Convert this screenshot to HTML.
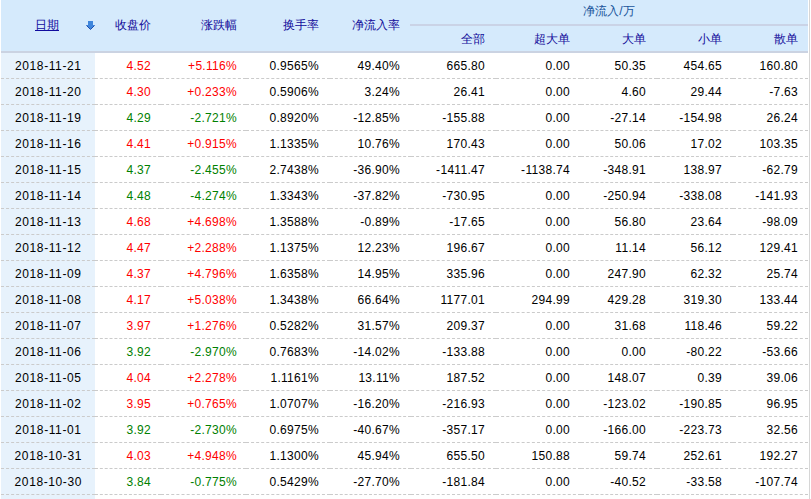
<!DOCTYPE html><html><head><meta charset="utf-8"><title>资金流向</title><style>
*{margin:0;padding:0;box-sizing:border-box}
html,body{width:811px;height:499px;overflow:hidden;background:#fff}
body{position:relative;font-family:"Liberation Sans",sans-serif;font-size:12px;color:#000}
.a{position:absolute}
.hd{left:1px;top:0;width:807px;height:51px;background:#d5eafc}
.hb{left:1px;top:51px;width:807px;height:2px;background:#cbd3e2}
.sep{left:410px;top:24px;width:398px;height:2px;background:#cad3e6}
.dc{left:1px;top:53px;width:94px;height:446px;background:#e7f2fc}
.vl{left:809px;top:0;width:1px;height:499px;background:#d6d6d6}
.dl{height:1px;border-bottom:1px dashed #cbcbcb}
.h{color:#120b9a;line-height:25px;white-space:nowrap}
.t{line-height:25px;letter-spacing:0.3px;white-space:nowrap;text-align:right}
.d{left:1px;width:94px;text-align:center;letter-spacing:0.6px;text-indent:0.6px}
.r{color:#f00}.g{color:#008000}
.nf{color:#18539a}
.lk{color:#110c9e;text-decoration:underline}
</style></head><body>
<div class="a hd"></div><div class="a hb"></div><div class="a sep"></div><div class="a dc"></div><div class="a vl"></div>
<div class="a h lk" style="left:35px;top:13px">日期</div>
<svg class="a" style="left:85px;top:20px" width="11" height="11" viewBox="85 20 11 11"><polygon points="88,21 93,21 93,25 95,25 90.5,29.5 86,25 88,25" fill="#3f86dc"/><polyline points="86.5,25.5 90.5,29.5 94.5,25.5" fill="none" stroke="#1d4fb0" stroke-width="1"/></svg>
<div class="a h" style="right:660px;top:13px">收盘价</div>
<div class="a h" style="right:574px;top:13px">涨跌幅</div>
<div class="a h" style="right:492px;top:13px">换手率</div>
<div class="a h" style="right:411px;top:13px">净流入率</div>
<div class="a h nf" style="left:410px;width:398px;top:-1px;text-align:center">净流入/万</div>
<div class="a h" style="right:326px;top:27px">全部</div>
<div class="a h" style="right:241px;top:27px">超大单</div>
<div class="a h" style="right:165px;top:27px">大单</div>
<div class="a h" style="right:89px;top:27px">小单</div>
<div class="a h" style="right:13px;top:27px">散单</div>
<div class="a dl" style="left:1px;width:94px;top:78px"></div>
<div class="a dl" style="left:95px;width:66px;top:78px"></div>
<div class="a dl" style="left:161px;width:85px;top:78px"></div>
<div class="a dl" style="left:246px;width:84px;top:78px"></div>
<div class="a dl" style="left:330px;width:81px;top:78px"></div>
<div class="a dl" style="left:411px;width:85px;top:78px"></div>
<div class="a dl" style="left:496px;width:85px;top:78px"></div>
<div class="a dl" style="left:581px;width:76px;top:78px"></div>
<div class="a dl" style="left:657px;width:76px;top:78px"></div>
<div class="a dl" style="left:733px;width:75px;top:78px"></div>
<div class="a t d" style="top:54px">2018-11-21</div>
<div class="a t r" style="right:660px;top:54px">4.52</div>
<div class="a t r" style="right:574px;top:54px">+5.116%</div>
<div class="a t " style="right:492px;top:54px">0.9565%</div>
<div class="a t " style="right:411px;top:54px">49.40%</div>
<div class="a t " style="right:326px;top:54px">665.80</div>
<div class="a t " style="right:241px;top:54px">0.00</div>
<div class="a t " style="right:165px;top:54px">50.35</div>
<div class="a t " style="right:89px;top:54px">454.65</div>
<div class="a t " style="right:13px;top:54px">160.80</div>
<div class="a dl" style="left:1px;width:94px;top:104px"></div>
<div class="a dl" style="left:95px;width:66px;top:104px"></div>
<div class="a dl" style="left:161px;width:85px;top:104px"></div>
<div class="a dl" style="left:246px;width:84px;top:104px"></div>
<div class="a dl" style="left:330px;width:81px;top:104px"></div>
<div class="a dl" style="left:411px;width:85px;top:104px"></div>
<div class="a dl" style="left:496px;width:85px;top:104px"></div>
<div class="a dl" style="left:581px;width:76px;top:104px"></div>
<div class="a dl" style="left:657px;width:76px;top:104px"></div>
<div class="a dl" style="left:733px;width:75px;top:104px"></div>
<div class="a t d" style="top:80px">2018-11-20</div>
<div class="a t r" style="right:660px;top:80px">4.30</div>
<div class="a t r" style="right:574px;top:80px">+0.233%</div>
<div class="a t " style="right:492px;top:80px">0.5906%</div>
<div class="a t " style="right:411px;top:80px">3.24%</div>
<div class="a t " style="right:326px;top:80px">26.41</div>
<div class="a t " style="right:241px;top:80px">0.00</div>
<div class="a t " style="right:165px;top:80px">4.60</div>
<div class="a t " style="right:89px;top:80px">29.44</div>
<div class="a t " style="right:13px;top:80px">-7.63</div>
<div class="a dl" style="left:1px;width:94px;top:130px"></div>
<div class="a dl" style="left:95px;width:66px;top:130px"></div>
<div class="a dl" style="left:161px;width:85px;top:130px"></div>
<div class="a dl" style="left:246px;width:84px;top:130px"></div>
<div class="a dl" style="left:330px;width:81px;top:130px"></div>
<div class="a dl" style="left:411px;width:85px;top:130px"></div>
<div class="a dl" style="left:496px;width:85px;top:130px"></div>
<div class="a dl" style="left:581px;width:76px;top:130px"></div>
<div class="a dl" style="left:657px;width:76px;top:130px"></div>
<div class="a dl" style="left:733px;width:75px;top:130px"></div>
<div class="a t d" style="top:106px">2018-11-19</div>
<div class="a t g" style="right:660px;top:106px">4.29</div>
<div class="a t g" style="right:574px;top:106px">-2.721%</div>
<div class="a t " style="right:492px;top:106px">0.8920%</div>
<div class="a t " style="right:411px;top:106px">-12.85%</div>
<div class="a t " style="right:326px;top:106px">-155.88</div>
<div class="a t " style="right:241px;top:106px">0.00</div>
<div class="a t " style="right:165px;top:106px">-27.14</div>
<div class="a t " style="right:89px;top:106px">-154.98</div>
<div class="a t " style="right:13px;top:106px">26.24</div>
<div class="a dl" style="left:1px;width:94px;top:156px"></div>
<div class="a dl" style="left:95px;width:66px;top:156px"></div>
<div class="a dl" style="left:161px;width:85px;top:156px"></div>
<div class="a dl" style="left:246px;width:84px;top:156px"></div>
<div class="a dl" style="left:330px;width:81px;top:156px"></div>
<div class="a dl" style="left:411px;width:85px;top:156px"></div>
<div class="a dl" style="left:496px;width:85px;top:156px"></div>
<div class="a dl" style="left:581px;width:76px;top:156px"></div>
<div class="a dl" style="left:657px;width:76px;top:156px"></div>
<div class="a dl" style="left:733px;width:75px;top:156px"></div>
<div class="a t d" style="top:132px">2018-11-16</div>
<div class="a t r" style="right:660px;top:132px">4.41</div>
<div class="a t r" style="right:574px;top:132px">+0.915%</div>
<div class="a t " style="right:492px;top:132px">1.1335%</div>
<div class="a t " style="right:411px;top:132px">10.76%</div>
<div class="a t " style="right:326px;top:132px">170.43</div>
<div class="a t " style="right:241px;top:132px">0.00</div>
<div class="a t " style="right:165px;top:132px">50.06</div>
<div class="a t " style="right:89px;top:132px">17.02</div>
<div class="a t " style="right:13px;top:132px">103.35</div>
<div class="a dl" style="left:1px;width:94px;top:182px"></div>
<div class="a dl" style="left:95px;width:66px;top:182px"></div>
<div class="a dl" style="left:161px;width:85px;top:182px"></div>
<div class="a dl" style="left:246px;width:84px;top:182px"></div>
<div class="a dl" style="left:330px;width:81px;top:182px"></div>
<div class="a dl" style="left:411px;width:85px;top:182px"></div>
<div class="a dl" style="left:496px;width:85px;top:182px"></div>
<div class="a dl" style="left:581px;width:76px;top:182px"></div>
<div class="a dl" style="left:657px;width:76px;top:182px"></div>
<div class="a dl" style="left:733px;width:75px;top:182px"></div>
<div class="a t d" style="top:158px">2018-11-15</div>
<div class="a t g" style="right:660px;top:158px">4.37</div>
<div class="a t g" style="right:574px;top:158px">-2.455%</div>
<div class="a t " style="right:492px;top:158px">2.7438%</div>
<div class="a t " style="right:411px;top:158px">-36.90%</div>
<div class="a t " style="right:326px;top:158px">-1411.47</div>
<div class="a t " style="right:241px;top:158px">-1138.74</div>
<div class="a t " style="right:165px;top:158px">-348.91</div>
<div class="a t " style="right:89px;top:158px">138.97</div>
<div class="a t " style="right:13px;top:158px">-62.79</div>
<div class="a dl" style="left:1px;width:94px;top:208px"></div>
<div class="a dl" style="left:95px;width:66px;top:208px"></div>
<div class="a dl" style="left:161px;width:85px;top:208px"></div>
<div class="a dl" style="left:246px;width:84px;top:208px"></div>
<div class="a dl" style="left:330px;width:81px;top:208px"></div>
<div class="a dl" style="left:411px;width:85px;top:208px"></div>
<div class="a dl" style="left:496px;width:85px;top:208px"></div>
<div class="a dl" style="left:581px;width:76px;top:208px"></div>
<div class="a dl" style="left:657px;width:76px;top:208px"></div>
<div class="a dl" style="left:733px;width:75px;top:208px"></div>
<div class="a t d" style="top:184px">2018-11-14</div>
<div class="a t g" style="right:660px;top:184px">4.48</div>
<div class="a t g" style="right:574px;top:184px">-4.274%</div>
<div class="a t " style="right:492px;top:184px">1.3343%</div>
<div class="a t " style="right:411px;top:184px">-37.82%</div>
<div class="a t " style="right:326px;top:184px">-730.95</div>
<div class="a t " style="right:241px;top:184px">0.00</div>
<div class="a t " style="right:165px;top:184px">-250.94</div>
<div class="a t " style="right:89px;top:184px">-338.08</div>
<div class="a t " style="right:13px;top:184px">-141.93</div>
<div class="a dl" style="left:1px;width:94px;top:234px"></div>
<div class="a dl" style="left:95px;width:66px;top:234px"></div>
<div class="a dl" style="left:161px;width:85px;top:234px"></div>
<div class="a dl" style="left:246px;width:84px;top:234px"></div>
<div class="a dl" style="left:330px;width:81px;top:234px"></div>
<div class="a dl" style="left:411px;width:85px;top:234px"></div>
<div class="a dl" style="left:496px;width:85px;top:234px"></div>
<div class="a dl" style="left:581px;width:76px;top:234px"></div>
<div class="a dl" style="left:657px;width:76px;top:234px"></div>
<div class="a dl" style="left:733px;width:75px;top:234px"></div>
<div class="a t d" style="top:210px">2018-11-13</div>
<div class="a t r" style="right:660px;top:210px">4.68</div>
<div class="a t r" style="right:574px;top:210px">+4.698%</div>
<div class="a t " style="right:492px;top:210px">1.3588%</div>
<div class="a t " style="right:411px;top:210px">-0.89%</div>
<div class="a t " style="right:326px;top:210px">-17.65</div>
<div class="a t " style="right:241px;top:210px">0.00</div>
<div class="a t " style="right:165px;top:210px">56.80</div>
<div class="a t " style="right:89px;top:210px">23.64</div>
<div class="a t " style="right:13px;top:210px">-98.09</div>
<div class="a dl" style="left:1px;width:94px;top:260px"></div>
<div class="a dl" style="left:95px;width:66px;top:260px"></div>
<div class="a dl" style="left:161px;width:85px;top:260px"></div>
<div class="a dl" style="left:246px;width:84px;top:260px"></div>
<div class="a dl" style="left:330px;width:81px;top:260px"></div>
<div class="a dl" style="left:411px;width:85px;top:260px"></div>
<div class="a dl" style="left:496px;width:85px;top:260px"></div>
<div class="a dl" style="left:581px;width:76px;top:260px"></div>
<div class="a dl" style="left:657px;width:76px;top:260px"></div>
<div class="a dl" style="left:733px;width:75px;top:260px"></div>
<div class="a t d" style="top:236px">2018-11-12</div>
<div class="a t r" style="right:660px;top:236px">4.47</div>
<div class="a t r" style="right:574px;top:236px">+2.288%</div>
<div class="a t " style="right:492px;top:236px">1.1375%</div>
<div class="a t " style="right:411px;top:236px">12.23%</div>
<div class="a t " style="right:326px;top:236px">196.67</div>
<div class="a t " style="right:241px;top:236px">0.00</div>
<div class="a t " style="right:165px;top:236px">11.14</div>
<div class="a t " style="right:89px;top:236px">56.12</div>
<div class="a t " style="right:13px;top:236px">129.41</div>
<div class="a dl" style="left:1px;width:94px;top:286px"></div>
<div class="a dl" style="left:95px;width:66px;top:286px"></div>
<div class="a dl" style="left:161px;width:85px;top:286px"></div>
<div class="a dl" style="left:246px;width:84px;top:286px"></div>
<div class="a dl" style="left:330px;width:81px;top:286px"></div>
<div class="a dl" style="left:411px;width:85px;top:286px"></div>
<div class="a dl" style="left:496px;width:85px;top:286px"></div>
<div class="a dl" style="left:581px;width:76px;top:286px"></div>
<div class="a dl" style="left:657px;width:76px;top:286px"></div>
<div class="a dl" style="left:733px;width:75px;top:286px"></div>
<div class="a t d" style="top:262px">2018-11-09</div>
<div class="a t r" style="right:660px;top:262px">4.37</div>
<div class="a t r" style="right:574px;top:262px">+4.796%</div>
<div class="a t " style="right:492px;top:262px">1.6358%</div>
<div class="a t " style="right:411px;top:262px">14.95%</div>
<div class="a t " style="right:326px;top:262px">335.96</div>
<div class="a t " style="right:241px;top:262px">0.00</div>
<div class="a t " style="right:165px;top:262px">247.90</div>
<div class="a t " style="right:89px;top:262px">62.32</div>
<div class="a t " style="right:13px;top:262px">25.74</div>
<div class="a dl" style="left:1px;width:94px;top:312px"></div>
<div class="a dl" style="left:95px;width:66px;top:312px"></div>
<div class="a dl" style="left:161px;width:85px;top:312px"></div>
<div class="a dl" style="left:246px;width:84px;top:312px"></div>
<div class="a dl" style="left:330px;width:81px;top:312px"></div>
<div class="a dl" style="left:411px;width:85px;top:312px"></div>
<div class="a dl" style="left:496px;width:85px;top:312px"></div>
<div class="a dl" style="left:581px;width:76px;top:312px"></div>
<div class="a dl" style="left:657px;width:76px;top:312px"></div>
<div class="a dl" style="left:733px;width:75px;top:312px"></div>
<div class="a t d" style="top:288px">2018-11-08</div>
<div class="a t r" style="right:660px;top:288px">4.17</div>
<div class="a t r" style="right:574px;top:288px">+5.038%</div>
<div class="a t " style="right:492px;top:288px">1.3438%</div>
<div class="a t " style="right:411px;top:288px">66.64%</div>
<div class="a t " style="right:326px;top:288px">1177.01</div>
<div class="a t " style="right:241px;top:288px">294.99</div>
<div class="a t " style="right:165px;top:288px">429.28</div>
<div class="a t " style="right:89px;top:288px">319.30</div>
<div class="a t " style="right:13px;top:288px">133.44</div>
<div class="a dl" style="left:1px;width:94px;top:338px"></div>
<div class="a dl" style="left:95px;width:66px;top:338px"></div>
<div class="a dl" style="left:161px;width:85px;top:338px"></div>
<div class="a dl" style="left:246px;width:84px;top:338px"></div>
<div class="a dl" style="left:330px;width:81px;top:338px"></div>
<div class="a dl" style="left:411px;width:85px;top:338px"></div>
<div class="a dl" style="left:496px;width:85px;top:338px"></div>
<div class="a dl" style="left:581px;width:76px;top:338px"></div>
<div class="a dl" style="left:657px;width:76px;top:338px"></div>
<div class="a dl" style="left:733px;width:75px;top:338px"></div>
<div class="a t d" style="top:314px">2018-11-07</div>
<div class="a t r" style="right:660px;top:314px">3.97</div>
<div class="a t r" style="right:574px;top:314px">+1.276%</div>
<div class="a t " style="right:492px;top:314px">0.5282%</div>
<div class="a t " style="right:411px;top:314px">31.57%</div>
<div class="a t " style="right:326px;top:314px">209.37</div>
<div class="a t " style="right:241px;top:314px">0.00</div>
<div class="a t " style="right:165px;top:314px">31.68</div>
<div class="a t " style="right:89px;top:314px">118.46</div>
<div class="a t " style="right:13px;top:314px">59.22</div>
<div class="a dl" style="left:1px;width:94px;top:364px"></div>
<div class="a dl" style="left:95px;width:66px;top:364px"></div>
<div class="a dl" style="left:161px;width:85px;top:364px"></div>
<div class="a dl" style="left:246px;width:84px;top:364px"></div>
<div class="a dl" style="left:330px;width:81px;top:364px"></div>
<div class="a dl" style="left:411px;width:85px;top:364px"></div>
<div class="a dl" style="left:496px;width:85px;top:364px"></div>
<div class="a dl" style="left:581px;width:76px;top:364px"></div>
<div class="a dl" style="left:657px;width:76px;top:364px"></div>
<div class="a dl" style="left:733px;width:75px;top:364px"></div>
<div class="a t d" style="top:340px">2018-11-06</div>
<div class="a t g" style="right:660px;top:340px">3.92</div>
<div class="a t g" style="right:574px;top:340px">-2.970%</div>
<div class="a t " style="right:492px;top:340px">0.7683%</div>
<div class="a t " style="right:411px;top:340px">-14.02%</div>
<div class="a t " style="right:326px;top:340px">-133.88</div>
<div class="a t " style="right:241px;top:340px">0.00</div>
<div class="a t " style="right:165px;top:340px">0.00</div>
<div class="a t " style="right:89px;top:340px">-80.22</div>
<div class="a t " style="right:13px;top:340px">-53.66</div>
<div class="a dl" style="left:1px;width:94px;top:390px"></div>
<div class="a dl" style="left:95px;width:66px;top:390px"></div>
<div class="a dl" style="left:161px;width:85px;top:390px"></div>
<div class="a dl" style="left:246px;width:84px;top:390px"></div>
<div class="a dl" style="left:330px;width:81px;top:390px"></div>
<div class="a dl" style="left:411px;width:85px;top:390px"></div>
<div class="a dl" style="left:496px;width:85px;top:390px"></div>
<div class="a dl" style="left:581px;width:76px;top:390px"></div>
<div class="a dl" style="left:657px;width:76px;top:390px"></div>
<div class="a dl" style="left:733px;width:75px;top:390px"></div>
<div class="a t d" style="top:366px">2018-11-05</div>
<div class="a t r" style="right:660px;top:366px">4.04</div>
<div class="a t r" style="right:574px;top:366px">+2.278%</div>
<div class="a t " style="right:492px;top:366px">1.1161%</div>
<div class="a t " style="right:411px;top:366px">13.11%</div>
<div class="a t " style="right:326px;top:366px">187.52</div>
<div class="a t " style="right:241px;top:366px">0.00</div>
<div class="a t " style="right:165px;top:366px">148.07</div>
<div class="a t " style="right:89px;top:366px">0.39</div>
<div class="a t " style="right:13px;top:366px">39.06</div>
<div class="a dl" style="left:1px;width:94px;top:416px"></div>
<div class="a dl" style="left:95px;width:66px;top:416px"></div>
<div class="a dl" style="left:161px;width:85px;top:416px"></div>
<div class="a dl" style="left:246px;width:84px;top:416px"></div>
<div class="a dl" style="left:330px;width:81px;top:416px"></div>
<div class="a dl" style="left:411px;width:85px;top:416px"></div>
<div class="a dl" style="left:496px;width:85px;top:416px"></div>
<div class="a dl" style="left:581px;width:76px;top:416px"></div>
<div class="a dl" style="left:657px;width:76px;top:416px"></div>
<div class="a dl" style="left:733px;width:75px;top:416px"></div>
<div class="a t d" style="top:392px">2018-11-02</div>
<div class="a t r" style="right:660px;top:392px">3.95</div>
<div class="a t r" style="right:574px;top:392px">+0.765%</div>
<div class="a t " style="right:492px;top:392px">1.0707%</div>
<div class="a t " style="right:411px;top:392px">-16.20%</div>
<div class="a t " style="right:326px;top:392px">-216.93</div>
<div class="a t " style="right:241px;top:392px">0.00</div>
<div class="a t " style="right:165px;top:392px">-123.02</div>
<div class="a t " style="right:89px;top:392px">-190.85</div>
<div class="a t " style="right:13px;top:392px">96.95</div>
<div class="a dl" style="left:1px;width:94px;top:442px"></div>
<div class="a dl" style="left:95px;width:66px;top:442px"></div>
<div class="a dl" style="left:161px;width:85px;top:442px"></div>
<div class="a dl" style="left:246px;width:84px;top:442px"></div>
<div class="a dl" style="left:330px;width:81px;top:442px"></div>
<div class="a dl" style="left:411px;width:85px;top:442px"></div>
<div class="a dl" style="left:496px;width:85px;top:442px"></div>
<div class="a dl" style="left:581px;width:76px;top:442px"></div>
<div class="a dl" style="left:657px;width:76px;top:442px"></div>
<div class="a dl" style="left:733px;width:75px;top:442px"></div>
<div class="a t d" style="top:418px">2018-11-01</div>
<div class="a t g" style="right:660px;top:418px">3.92</div>
<div class="a t g" style="right:574px;top:418px">-2.730%</div>
<div class="a t " style="right:492px;top:418px">0.6975%</div>
<div class="a t " style="right:411px;top:418px">-40.67%</div>
<div class="a t " style="right:326px;top:418px">-357.17</div>
<div class="a t " style="right:241px;top:418px">0.00</div>
<div class="a t " style="right:165px;top:418px">-166.00</div>
<div class="a t " style="right:89px;top:418px">-223.73</div>
<div class="a t " style="right:13px;top:418px">32.56</div>
<div class="a dl" style="left:1px;width:94px;top:468px"></div>
<div class="a dl" style="left:95px;width:66px;top:468px"></div>
<div class="a dl" style="left:161px;width:85px;top:468px"></div>
<div class="a dl" style="left:246px;width:84px;top:468px"></div>
<div class="a dl" style="left:330px;width:81px;top:468px"></div>
<div class="a dl" style="left:411px;width:85px;top:468px"></div>
<div class="a dl" style="left:496px;width:85px;top:468px"></div>
<div class="a dl" style="left:581px;width:76px;top:468px"></div>
<div class="a dl" style="left:657px;width:76px;top:468px"></div>
<div class="a dl" style="left:733px;width:75px;top:468px"></div>
<div class="a t d" style="top:444px">2018-10-31</div>
<div class="a t r" style="right:660px;top:444px">4.03</div>
<div class="a t r" style="right:574px;top:444px">+4.948%</div>
<div class="a t " style="right:492px;top:444px">1.1300%</div>
<div class="a t " style="right:411px;top:444px">45.94%</div>
<div class="a t " style="right:326px;top:444px">655.50</div>
<div class="a t " style="right:241px;top:444px">150.88</div>
<div class="a t " style="right:165px;top:444px">59.74</div>
<div class="a t " style="right:89px;top:444px">252.61</div>
<div class="a t " style="right:13px;top:444px">192.27</div>
<div class="a dl" style="left:1px;width:94px;top:494px"></div>
<div class="a dl" style="left:95px;width:66px;top:494px"></div>
<div class="a dl" style="left:161px;width:85px;top:494px"></div>
<div class="a dl" style="left:246px;width:84px;top:494px"></div>
<div class="a dl" style="left:330px;width:81px;top:494px"></div>
<div class="a dl" style="left:411px;width:85px;top:494px"></div>
<div class="a dl" style="left:496px;width:85px;top:494px"></div>
<div class="a dl" style="left:581px;width:76px;top:494px"></div>
<div class="a dl" style="left:657px;width:76px;top:494px"></div>
<div class="a dl" style="left:733px;width:75px;top:494px"></div>
<div class="a t d" style="top:470px">2018-10-30</div>
<div class="a t g" style="right:660px;top:470px">3.84</div>
<div class="a t g" style="right:574px;top:470px">-0.775%</div>
<div class="a t " style="right:492px;top:470px">0.5429%</div>
<div class="a t " style="right:411px;top:470px">-27.70%</div>
<div class="a t " style="right:326px;top:470px">-181.84</div>
<div class="a t " style="right:241px;top:470px">0.00</div>
<div class="a t " style="right:165px;top:470px">-40.52</div>
<div class="a t " style="right:89px;top:470px">-33.58</div>
<div class="a t " style="right:13px;top:470px">-107.74</div>
</body></html>
